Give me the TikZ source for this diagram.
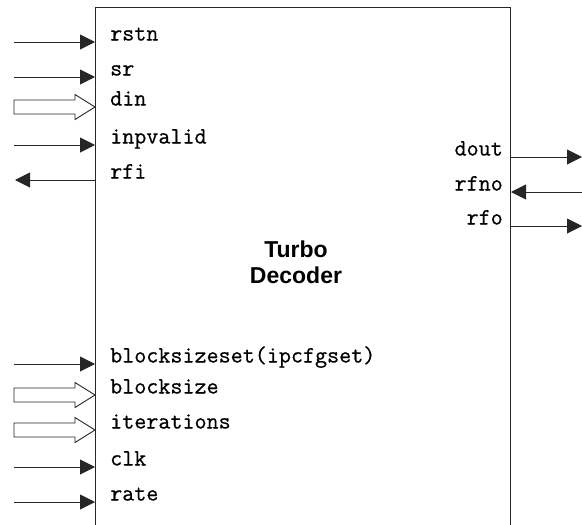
\documentclass[tikz,border=0pt]{standalone}
\usepackage{fontspec}
\setsansfont{Liberation Sans}
\newfontfamily\courfont[FakeBold=0.6]{Latin Modern Mono}
\usetikzlibrary{arrows.meta}
\begin{document}
\begin{tikzpicture}[x=1pt,y=-1pt,
  wire/.style={draw=black!85,line width=1pt},
  tip/.style={wire,-{Triangle[length=15pt,width=15pt]}},
  hollow/.style={draw=black!85,line width=0.9pt,fill=white,line join=miter},
  lbl/.style={font=\courfont\fontsize{23.4}{26}\selectfont,inner sep=0pt},
  title/.style={font=\sffamily\bfseries\fontsize{23}{26}\selectfont,align=center,inner sep=0pt}]
\useasboundingbox (0,0) rectangle (582,525);
\newcommand\hollowarr[1]{%
  \draw[hollow] (14,#1-7) -- (75,#1-7) -- (75,#1-12.5) -- (95,#1) -- (75,#1+12.5) -- (75,#1+7) -- (14,#1+7) -- cycle;}
% block outline (open at the bottom)
\coordinate (bl) at (95,525);
\coordinate (tl) at (95,7);
\coordinate (tr) at (510,7);
\coordinate (br) at (510,525);
\draw[wire] (bl) -- (tl) -- (tr) -- (br);
\node[title] (t) at (296,262) {Turbo\\Decoder};
% left top ports
\foreach \n/\y in {rstn/42,sr/77,inpvalid/145}{
  \coordinate (\n-o) at (14,\y);
  \coordinate (\n-p) at (95,\y);
  \draw[tip] (\n-o) -- (\n-p);
}
\coordinate (rfi-o) at (15,180);
\coordinate (rfi-p) at (95,180);
\draw[tip] (rfi-p) -- (rfi-o);
\hollowarr{107}
\foreach \n/\y in {rstn/42,sr/77,din/107,inpvalid/145,rfi/180}{
  \node[lbl,anchor=base west] (l-\n) at (110,\y-1.5) {\n};
}
% left bottom ports
\foreach \n/\y in {bss/364,clk/467,rate/502}{
  \coordinate (\n-o) at (14,\y);
  \coordinate (\n-p) at (95,\y);
  \draw[tip] (\n-o) -- (\n-p);
}
\hollowarr{395}
\hollowarr{430}
\node[lbl,anchor=base west] (l-bss) at (110,362.5) {blocksizeset(ipcfgset)};
\node[lbl,anchor=base west] (l-bs) at (110,393.5) {blocksize};
\node[lbl,anchor=base west] (l-it) at (110,428.5) {iterations};
\node[lbl,anchor=base west] (l-clk) at (110,465.5) {clk};
\node[lbl,anchor=base west] (l-rate) at (110,500.5) {rate};
% right ports
\coordinate (dout-p) at (510,157);
\coordinate (dout-o) at (582,157);
\coordinate (rfno-p) at (511,192);
\coordinate (rfno-o) at (582,192);
\coordinate (rfo-p) at (510,226);
\coordinate (rfo-o) at (582,226);
\draw[tip] (dout-p) -- (dout-o);
\draw[tip] (rfno-o) -- (rfno-p);
\draw[tip] (rfo-p) -- (rfo-o);
\node[lbl,anchor=base east] (l-dout) at (503,155.5) {dout};
\node[lbl,anchor=base east] (l-rfno) at (503,190.5) {rfno};
\node[lbl,anchor=base east] (l-rfo) at (503,224.5) {rfo};
\end{tikzpicture}
\end{document}
